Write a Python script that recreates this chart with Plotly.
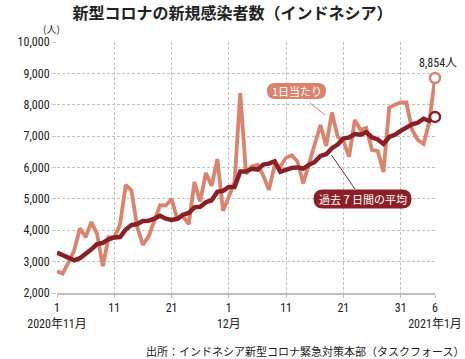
import plotly.graph_objects as go
import pandas as pd

# ---- data ----
daily = [2696, 2618, 2973, 3356, 4065, 3778, 4262, 3880, 2853, 3779,
         3770, 4173, 5444, 5272, 4106, 3535, 3807, 4265, 4798, 4792,
         4998, 4360, 4442, 4192, 5534, 4917, 5828, 5418, 6267, 4617,
         5092, 5533, 8369, 5803, 6027, 6089, 5754, 5292, 6058, 6033,
         6310, 6388, 6189, 5489, 6120, 6725, 7354, 6689, 7751, 6982,
         6848, 6347, 7514, 7199, 7259, 6555, 6528, 5854, 7903, 8002,
         8074, 8072, 7203, 6877, 6753, 7445, 8854]
avg7 = [3290, 3210, 3130, 3040, 3110, 3233, 3393, 3562, 3595, 3710,
        3770, 3785, 4023, 4167, 4200, 4297, 4301, 4372, 4461, 4368,
        4329, 4365, 4495, 4550, 4731, 4748, 4896, 4956, 5228, 5253,
        5382, 5382, 5875, 5871, 5958, 5933, 6095, 6124, 6199, 5865,
        5938, 5989, 6003, 5966, 6084, 6179, 6368, 6422, 6617, 6730,
        6924, 6957, 7069, 7047, 7129, 6958, 6893, 6751, 6973, 7043,
        7168, 7284, 7377, 7426, 7555, 7489, 7611]
dates = pd.date_range("2020-11-01", periods=len(daily), freq="D")
tick_vals = ["2020-11-01", "2020-11-11", "2020-11-21", "2020-12-01",
             "2020-12-11", "2020-12-21", "2020-12-31", "2021-01-06"]
tick_text = ["1<br>2020年11月", "11", "21", "1<br>12月", "11", "21", "31", "6<br>2021年1月"]
y_ticks = [2000, 3000, 4000, 5000, 6000, 7000, 8000, 9000, 10000]

SALMON = "#db836d"
DARK = "#8a1f26"
NUM_FONT = "Liberation Sans Narrow, Roboto Condensed, Noto Sans CJK JP, sans-serif"
JP_FONT = "Noto Sans CJK JP, sans-serif"

# layout geometry (pixels)
FW, FH = 465, 359
L, R, T, B = 57, 435, 42, 293
PW, PH = R - L, B - T

def px(x):
    return (x - L) / PW

def py(y):
    return (B - y) / PH

def pill(cx, cy, w, h):
    x0, x1 = cx - w / 2, cx + w / 2
    y0, y1 = cy - h / 2, cy + h / 2
    r = h / 2
    pts = [
        f"M {px(x0 + r)},{py(y0)}",
        f"L {px(x1 - r)},{py(y0)}",
        f"Q {px(x1)},{py(y0)} {px(x1)},{py(cy)}",
        f"Q {px(x1)},{py(y1)} {px(x1 - r)},{py(y1)}",
        f"L {px(x0 + r)},{py(y1)}",
        f"Q {px(x0)},{py(y1)} {px(x0)},{py(cy)}",
        f"Q {px(x0)},{py(y0)} {px(x0 + r)},{py(y0)}",
        "Z",
    ]
    return " ".join(pts)

fig = go.Figure()
fig.add_trace(go.Scatter(
    x=dates, y=daily, mode="lines",
    line=dict(color=SALMON, width=3.8), cliponaxis=False, hoverinfo="skip"))
fig.add_trace(go.Scatter(
    x=dates, y=avg7, mode="lines",
    line=dict(color=DARK, width=4.5), cliponaxis=False, hoverinfo="skip"))
# end markers
fig.add_trace(go.Scatter(
    x=[dates[-1]], y=[daily[-1]], mode="markers", cliponaxis=False, hoverinfo="skip",
    marker=dict(size=10, color="white", line=dict(color=SALMON, width=2.5))))
fig.add_trace(go.Scatter(
    x=[dates[-1]], y=[avg7[-1]], mode="markers", cliponaxis=False, hoverinfo="skip",
    marker=dict(size=10, color="white", line=dict(color=DARK, width=2.5))))

shapes = [
    dict(type="path", xref="paper", yref="paper", path=pill(296.5, 91, 59, 16),
         fillcolor=SALMON, line=dict(width=0)),
    dict(type="path", xref="paper", yref="paper", path=pill(362.5, 199, 98, 19),
         fillcolor=DARK, line=dict(width=0)),
    dict(type="line", xref="paper", yref="paper", x0=px(310), y0=py(103),
         x1=px(325), y1=py(115), line=dict(color=SALMON, width=1)),
    dict(type="line", xref="paper", yref="paper", x0=px(331.5), y0=py(155),
         x1=px(355), y1=py(189), line=dict(color=DARK, width=1)),
]

annotations = [
    dict(xref="paper", yref="paper", x=px(296.5), y=py(91), text="1日当たり",
         showarrow=False, font=dict(family=JP_FONT, size=11, color="white"),
         xanchor="center", yanchor="middle"),
    dict(xref="paper", yref="paper", x=px(362.5), y=py(199), text="過去７日間の平均",
         showarrow=False, font=dict(family=JP_FONT, size=11, color="white"),
         xanchor="center", yanchor="middle"),
    dict(x=dates[-1], y=daily[-1], text=f"{daily[-1]:,}人", showarrow=False,
         xshift=3, yshift=15, font=dict(family=NUM_FONT, size=12, color="#222"),
         xanchor="center", yanchor="middle"),
    dict(xref="paper", yref="paper", x=px(51), y=py(28), text="(人)", showarrow=False,
         font=dict(family=JP_FONT, size=10, color="#222"), xanchor="center", yanchor="middle"),
    dict(xref="paper", yref="paper", x=px(466), y=py(351),
         text="出所：インドネシア新型コロナ緊急対策本部（タスクフォース）", showarrow=False,
         font=dict(family=JP_FONT, size=11, color="#222"), xanchor="right", yanchor="middle"),
]

fig.update_layout(
    width=FW, height=FH,
    margin=dict(l=L, r=FW - R, t=T, b=FH - B, autoexpand=False),
    paper_bgcolor="white", plot_bgcolor="white",
    showlegend=False, hovermode=False,
    title=dict(text="<b>新型コロナの新規感染者数（インドネシア）</b>",
               x=0.5, xanchor="center", y=1 - 13 / FH, yanchor="middle",
               font=dict(family=JP_FONT, size=16, color="#222")),
    shapes=shapes, annotations=annotations,
)
fig.update_xaxes(
    type="date", range=[dates[0], dates[-1]], automargin=False,
    tickmode="array", tickvals=tick_vals, ticktext=tick_text,
    showgrid=True, gridcolor="#c4c4c4", griddash="3px,2px", gridwidth=1,
    showline=True, linecolor="#bdbdbd", linewidth=2,
    ticks="outside", ticklen=3, tickcolor="#bdbdbd",
    tickfont=dict(family=NUM_FONT, size=12, color="#222"),
    zeroline=False, tickangle=0,
)
fig.update_yaxes(
    range=[2000, 10000], tickmode="array", tickvals=y_ticks, automargin=False,
    ticktext=[f"{v:,}" for v in y_ticks],
    showgrid=True, gridcolor="#c4c4c4", griddash="3px,2px", gridwidth=1,
    ticks="outside", ticklen=4, tickcolor="#c4c4c4",
    tickfont=dict(family=NUM_FONT, size=12, color="#222"),
    zeroline=False, showline=False,
)

fig.write_html("out.html", config={"displayModeBar": False},
               post_script="document.body.style.margin='0px';document.body.style.overflow='hidden';")
